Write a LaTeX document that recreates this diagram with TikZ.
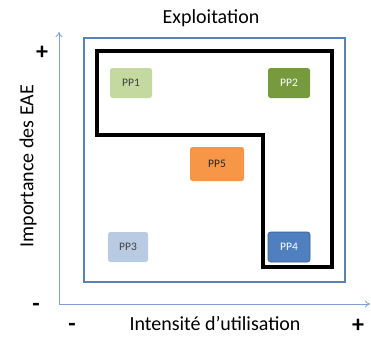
\documentclass[tikz,border=0pt]{standalone}
\usepackage{fontspec}
\setmainfont{Carlito}
\usetikzlibrary{arrows.meta}
\definecolor{axisblue}{HTML}{7FA0D0}
\definecolor{rectblue}{HTML}{5A82B8}
\definecolor{ppone}{HTML}{C3D9A0}
\definecolor{pptwo}{HTML}{779A3E}
\definecolor{ppthree}{HTML}{B9CBE3}
\definecolor{ppfour}{HTML}{4F7FBE}
\definecolor{ppfive}{HTML}{F79646}
\tikzset{
  ppbox/.style={rounded corners=2.5pt, minimum width=42pt, minimum height=30pt, inner sep=0pt, font=\fontsize{11.5}{13}\selectfont},
  axis/.style={draw=axisblue, line width=0.8pt, -{To[length=5pt,width=7pt]}},
  sign/.style={font=\fontsize{24}{26}\selectfont\bfseries, inner sep=0pt},
  lbl/.style={font=\fontsize{20}{23}\selectfont, inner sep=0pt}
}
\begin{document}
\begin{tikzpicture}[x=1pt,y=-1pt]
\useasboundingbox (0,0) rectangle (371,338);
% axes
\coordinate (o) at (59,304);
\coordinate (ytop) at (59,32);
\coordinate (xend) at (370,304);
\draw[axis] (o) -- (ytop);
\draw[axis] (o) -- (xend);
% blue frame
\draw[rectblue, line width=1.2pt] (84,38) rectangle (345,282);
% black L-shaped region
\draw[black, line width=3.3pt] (97,51) -- (332,51) -- (332,267) -- (263,267) -- (263,135) -- (97,135) -- cycle;
% nodes
\node[ppbox, fill=ppone, text=black!75] (pp1) at (131,83) {PP1};
\node[ppbox, fill=pptwo, text=white] (pp2) at (289,83) {PP2};
\node[ppbox, fill=ppfive, minimum width=54pt, minimum height=34pt, text=black!85] (pp5) at (217,164) {PP5};
\node[ppbox, fill=ppthree, minimum width=40pt, text=black!75] (pp3) at (128,247) {PP3};
\node[ppbox, fill=ppfour, draw=rectblue!70!black, line width=0.6pt, text=white] (pp4) at (289,247) {PP4};
% labels
\node[lbl] (title) at (211,18) {Exploitation};
\node[lbl, rotate=90] (ylab) at (28,166) {Importance des EAE};
\node[lbl] (xlab) at (215,324) {Intensité d’utilisation};
\node[sign] (yplus) at (42,53) {+};
\node[sign] (yminus) at (36,307) {-};
\node[sign] (xminus) at (72,327) {-};
\node[sign] (xplus) at (358,326) {+};
\end{tikzpicture}
\end{document}
